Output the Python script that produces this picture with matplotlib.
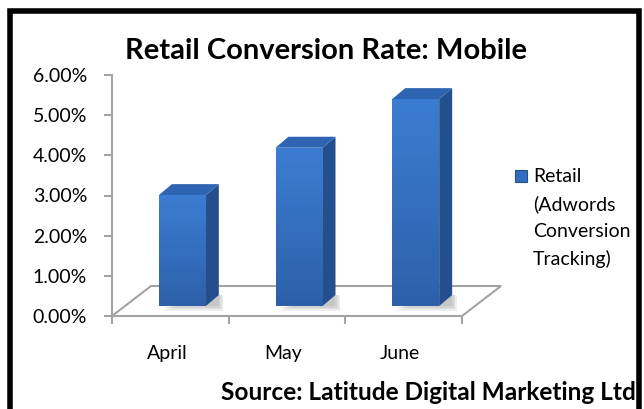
import numpy as np
import matplotlib
matplotlib.use("Agg")
import matplotlib.pyplot as plt
from matplotlib.patches import Polygon, Rectangle
from matplotlib.ticker import FuncFormatter

MONTHS = ["April", "May", "June"]
RATES = [2.76, 3.94, 5.15]  # conversion rate, %
Y_TICKS = [0, 1, 2, 3, 4, 5, 6]
TITLE = "Retail Conversion Rate: Mobile"
SERIES = "Retail\n(Adwords\nConversion\nTracking)"
SOURCE = "Source: Latitude Digital Marketing Ltd"

plt.rcParams["font.family"] = ["Lato", "DejaVu Sans"]

W, H = 644, 409
fig = plt.figure(figsize=(W / 100, H / 100), dpi=100)

# plot area in pixels: x 112..462 covers the 3 categories, y 316..75 covers 0..6 %
ax = fig.add_axes([112 / W, 1 - 316 / H, 350 / W, 241 / H])

px_x = 3 / 350
px_y = 6 / 241

grey = "#a3a3a3"
floor_dx, floor_dy = 39 * px_x, 30 * px_y
front_dx, front_dy = 12 * px_x, 10 * px_y
depth_dx, depth_dy = 13 * px_x, 11 * px_y
bar_w = 47 * px_x

# floor outline (front edge is the bottom spine)
floor = [(0, 0), (floor_dx, floor_dy), (3 + floor_dx, floor_dy), (3, 0)]
ax.plot(*zip(*floor), color=grey, lw=1.5, clip_on=False, zorder=1,
        solid_joinstyle="miter")

grad = np.linspace(0, 1, 256).reshape(-1, 1)
front_cmap = matplotlib.colors.LinearSegmentedColormap.from_list(
    "front", ["#2d60a9", "#3b7dd2"])

for i, v in enumerate(RATES):
    x0 = i + 0.5 - bar_w / 2 + front_dx
    x1 = x0 + bar_w
    y0 = front_dy
    y1 = front_dy + v
    # soft shadow at the base, built from a few faint layers
    for k in range(4):
        grow = k * 1.5
        ax.add_patch(Polygon([(x0 + 4 * px_x, y0 - grow * px_y),
                              (x1 + depth_dx + grow * px_x, y0 - grow * px_y),
                              (x1 + depth_dx + grow * px_x, y0 + depth_dy),
                              (x1, y0 + depth_dy)],
                             closed=True, color="#7a7a7a", alpha=0.12, lw=0,
                             zorder=2, clip_on=False))
    # side face
    ax.add_patch(Polygon([(x1, y0), (x1 + depth_dx, y0 + depth_dy),
                          (x1 + depth_dx, y1 + depth_dy), (x1, y1)],
                         closed=True, facecolor="#234f8c", edgecolor="none",
                         zorder=3, clip_on=False))
    # top face
    ax.add_patch(Polygon([(x0, y1), (x0 + depth_dx, y1 + depth_dy),
                          (x1 + depth_dx, y1 + depth_dy), (x1, y1)],
                         closed=True, facecolor="#2d65b3", edgecolor="none",
                         zorder=3, clip_on=False))
    # front face with a vertical gradient
    face = Rectangle((x0, y0), bar_w, v, facecolor="none", edgecolor="none",
                     zorder=4)
    ax.add_patch(face)
    im = ax.imshow(grad, cmap=front_cmap, extent=(x0, x1, y0, y1),
                   origin="lower", aspect="auto", zorder=4)
    im.set_clip_path(face)

ax.set_xlim(0, 3)
ax.set_ylim(0, 6)

for side in ["top", "right"]:
    ax.spines[side].set_visible(False)
for side in ["left", "bottom"]:
    ax.spines[side].set_color(grey)
    ax.spines[side].set_linewidth(1.5)

ax.set_yticks(Y_TICKS)
ax.yaxis.set_major_formatter(FuncFormatter(lambda y, _: f"{y:.2f}%"))
ax.tick_params(axis="y", length=6, width=1.5, color=grey, labelsize=14,
               pad=12, labelcolor="black")
ax.set_xticks([0, 1, 2, 3])
ax.set_xticklabels([])
ax.tick_params(axis="x", which="major", length=6, width=1.5, color=grey)
ax.set_xticks([0.47, 1.47, 2.47], minor=True)
ax.set_xticklabels(MONTHS, minor=True)
ax.tick_params(axis="x", which="minor", length=0, pad=21, labelsize=14)

fig.text(326 / W, 1 - 51 / H, TITLE, ha="center", va="center",
         fontsize=21, fontweight="bold")
fig.text(636 / W, 1 - 392 / H, SOURCE, ha="right", va="center",
         fontsize=17.6, fontweight="bold")

# legend entry
fig.patches.append(Rectangle((515 / W, 1 - 182 / H), 12 / W, 12 / H,
                             transform=fig.transFigure, facecolor="#3170c0",
                             edgecolor="#24508e", lw=0.8))
fig.text(533 / W, 1 - 168 / H, SERIES, ha="left", va="top", fontsize=14,
         linespacing=1.68)

# chart border
fig.patches.append(Rectangle((10 / W, -0.05), 629 / W, 1.05 - 11 / H,
                             transform=fig.transFigure, facecolor="none",
                             edgecolor="black", lw=4))

fig.savefig("out.png", dpi=100)
